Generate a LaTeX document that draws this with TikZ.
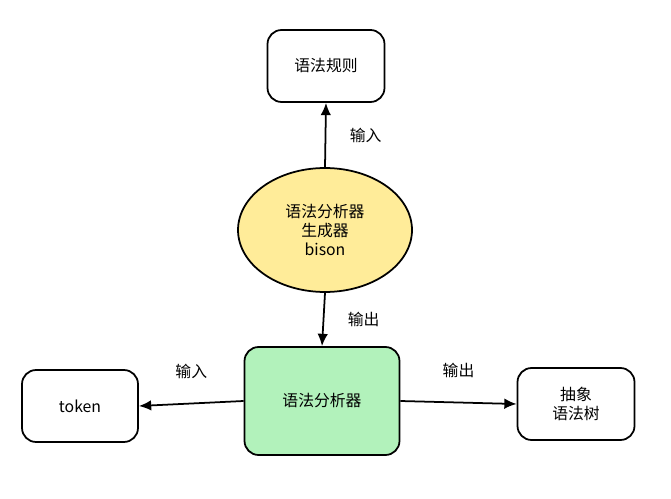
\documentclass[tikz,border=0pt]{standalone}
\usepackage{fontspec}
\setmainfont{Noto Sans CJK SC}
\usetikzlibrary{shapes.geometric,arrows.meta}
\definecolor{SketchYellow}{HTML}{FFEC99}
\definecolor{SketchGreen}{HTML}{B2F2BB}
\tikzset{
    box/.style={rectangle, draw, rounded corners=8pt, line width=1pt,
                align=center, inner sep=0, font=\small},
    blob/.style={ellipse, draw, line width=1pt, fill=SketchYellow,
                align=center, inner sep=0, font=\small},
    flow/.style={-{Latex[length=7pt,width=6pt]}, line width=1pt},
    tag/.style={font=\small},
}
\begin{document}
\begin{tikzpicture}[x=0.02cm, y=-0.02cm]
    \useasboundingbox (0,0) rectangle (671,499);
    \node[box, minimum width=2.34cm, minimum height=1.44cm] (rule) at (326,66) {语法规则};
    \node[blob, minimum width=3.48cm, minimum height=2.48cm] (gen) at (325,230) {语法分析器\\生成器\\bison};
    \node[box, fill=SketchGreen, minimum width=3.1cm, minimum height=2.16cm] (parser) at (322,401) {语法分析器};
    \node[box, minimum width=2.32cm, minimum height=1.44cm] (token) at (80,406) {token};
    \node[box, minimum width=2.34cm, minimum height=1.44cm] (tree) at (576,404) {抽象\\语法树};
    %
    \draw[flow] (gen.north) -- (rule.south) node[tag, midway, right=10pt] {输入};
    \draw[flow] (gen.south) -- (parser.north) node[tag, midway, right=10pt] {输出};
    \draw[flow] (parser.west) -- (token.east) node[tag, midway, above=10pt] {输入};
    \draw[flow] (parser.east) -- (tree.west) node[tag, midway, above=10pt] {输出};
\end{tikzpicture}
\end{document}
